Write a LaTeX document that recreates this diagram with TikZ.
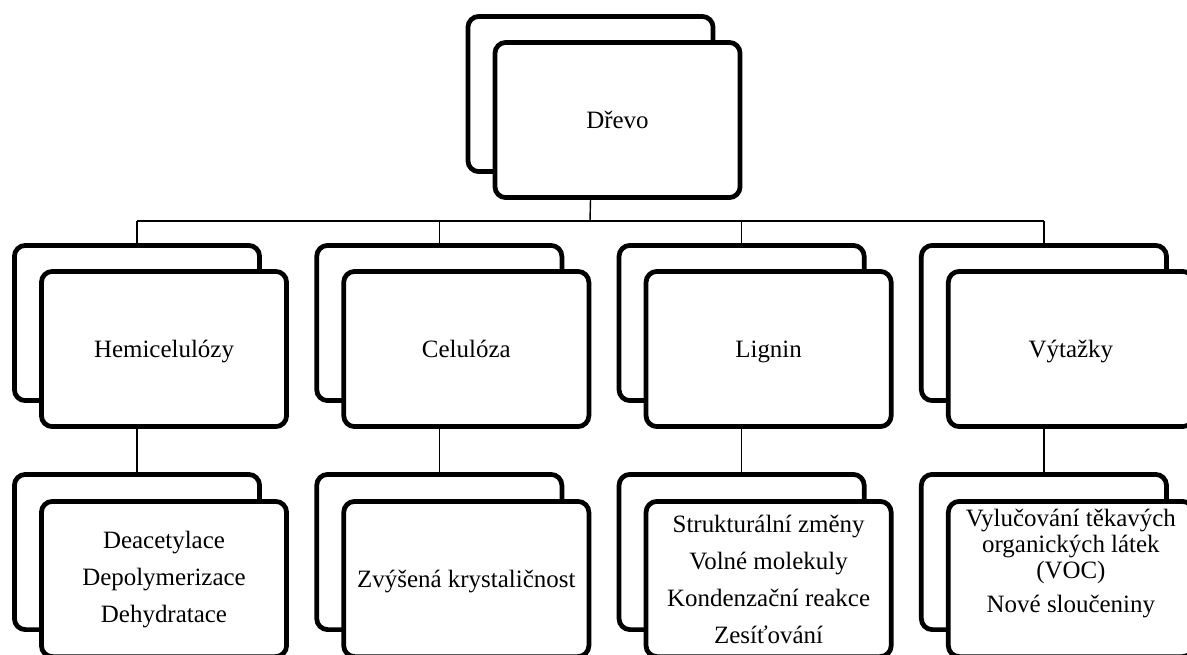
\documentclass[tikz,border=0pt]{standalone}
\usepackage{fontspec}
\setmainfont{Liberation Serif}
\usepackage{tikz}

\begin{document}
\begin{tikzpicture}[x=0.02cm,y=-0.02cm,
    back/.style={draw,line width=0.095cm,rounded corners=0.22cm,fill=white,
      minimum width=4.905cm,minimum height=3.105cm,inner sep=0pt},
    front/.style={back,align=center,font=\fontsize{14.2pt}{15pt}\selectfont},
    single/.style={front,text height=0.4cm,text depth=0.08cm},
    conn/.style={line width=0.8pt}]
    % frame of the picture
    \useasboundingbox (0,0) rectangle (1187,654);
    \clip (0,0) rectangle (1187,654);
    \node[back] (drevob) at (590.5,94) {};
    \node[single] (drevo) at (617.5,120) {Dřevo};
    \coordinate (bus) at (590,221);
    \draw[conn] (drevob.south |- drevo.south) -- (bus);
    % the four parts and what happens to them
    \foreach \i/\name/\low/\dep in {
        0/Hemicelulózy/{Deacetylace\\[6pt]Depolymerizace\\[6pt]Dehydratace}/0.1cm,
        1/Celulóza/{Zvýšená krystaličnost}/0.02cm,
        2/Lignin/{Strukturální změny\\[6pt]Volné molekuly\\[6pt]Kondenzační reakce\\[6pt]Zesíťování}/0cm,
        3/Výtažky/{Vylučování těkavých\\organických látek\\(VOC)\\[4pt]Nové sloučeniny}/0.74cm}
    {
        \node[back] (midb\i) at (137+302.3*\i,323) {};
        \node[single] (mid\i) at (164+302.3*\i,349) {\name};
        \node[back] (lowb\i) at (137+302.3*\i,552) {};
        \node[front,text depth=\dep] (low\i) at (164+302.3*\i,579) {\low};
        \draw[conn] (midb\i.north |- bus) -- (midb\i.north);
        \draw[conn] (midb\i.south |- mid\i.south) -- (lowb\i.north);
    }
    \draw[conn] (midb0.north |- bus) -- (midb3.north |- bus);
\end{tikzpicture}
\end{document}
